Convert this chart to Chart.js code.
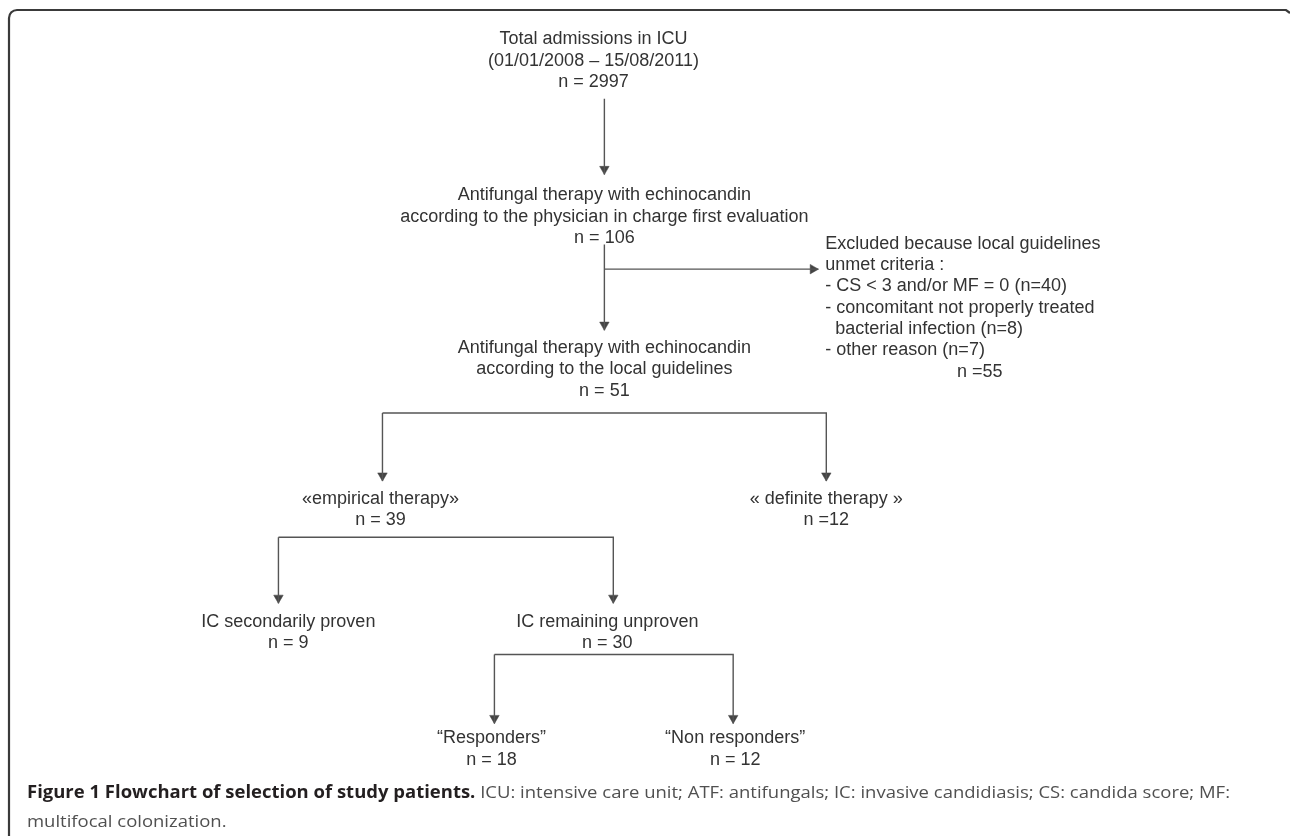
<!DOCTYPE html>
<html>
<head>
<meta charset="utf-8">
<script src="https://cdn.jsdelivr.net/npm/chart.js@4.4.1/dist/chart.umd.min.js"></script>
<style>
  html, body { margin: 0; padding: 0; background: #fff; }
  canvas { display: block; }
</style>
</head>
<body>
<canvas id="flow" width="1290" height="836"></canvas>
<script>
// box texts, top to bottom
const nodeLabels = [
  ["Total admissions in ICU", "(01/01/2008 \u2013 15/08/2011)"],
  ["Antifungal therapy with echinocandin", "according to the physician in charge first evaluation"],
  ["Antifungal therapy with echinocandin", "according to the local guidelines"],
  ["Excluded because local guidelines", "unmet criteria :", "- CS < 3 and/or MF = 0 (n=40)",
   "- concomitant not properly treated", "  bacterial infection (n=8)", "- other reason (n=7)"],
  ["\u00abempirical therapy\u00bb"],
  ["\u00ab definite therapy \u00bb"],
  ["IC secondarily proven"],
  ["IC remaining unproven"],
  ["\u201cResponders\u201d"],
  ["\u201cNon responders\u201d"]
];
const nodeCounts = [2997, 106, 51, 55, 39, 12, 9, 30, 18, 12];
const countSigns = ["n = ", "n = ", "n = ", "n =", "n = ", "n =", "n = ", "n = ", "n = ", "n = "];

const captionBold = "Figure 1 Flowchart of selection of study patients.";
const captionText = [" ICU: intensive care unit; ATF: antifungals; IC: invasive candidiasis; CS: candida score; MF:",
                     "multifocal colonization."];

// layout (pixels): where each box sits, first line y
const nodeX = [593, 604, 604, 827, 378, 828, 285, 607, 490, 736];
const nodeY = [34, 192, 347, 241, 500, 500, 625, 625, 743, 743];
const lineGap = 21.7;

// connectors, arrow head on the last point
const links = [
  [[604, 94], [604, 171]],
  [[604, 242], [604, 329]],
  [[604, 267], [820, 267]],
  [[380, 413], [380, 482]],
  [[380, 413], [828, 413], [828, 482]],
  [[275, 539], [275, 606]],
  [[275, 539], [613, 539], [613, 606]],
  [[493, 658], [493, 728]],
  [[493, 658], [734, 658], [734, 728]]
];

const headR = 5.5;
const lineCol = "#555";

const datasets = links.map(pts => ({
  data: pts.map(p => ({ x: p[0], y: p[1] })),
  showLine: true,
  borderColor: lineCol,
  borderWidth: 1.4,
  pointRadius: 0
}));

// arrow heads: triangle centred one radius back from the tip
const heads = [], rots = [];
links.forEach(pts => {
  const a = pts[pts.length - 2], b = pts[pts.length - 1];
  if (b[0] > a[0]) { heads.push({ x: b[0] - headR, y: b[1] }); rots.push(90); }
  else { heads.push({ x: b[0], y: b[1] - headR }); rots.push(180); }
});
datasets.push({
  data: heads,
  showLine: false,
  pointStyle: "triangle",
  rotation: rots,
  pointRadius: headR,
  backgroundColor: "#444",
  borderColor: "#444",
  borderWidth: 0.5
});

const flowText = {
  id: "flowText",
  beforeDraw(chart) {
    const c = chart.ctx;
    c.save();
    c.strokeStyle = "#3a3a3a";
    c.lineWidth = 2.2;
    c.beginPath();
    c.moveTo(9, 836);
    c.lineTo(9, 18);
    c.arcTo(9, 10, 17, 10, 8);
    c.lineTo(1286, 10);
    c.lineTo(1290, 13);
    c.stroke();
    c.restore();
  },
  afterDraw(chart) {
    const c = chart.ctx, sx = chart.scales.x, sy = chart.scales.y;
    c.save();
    c.fillStyle = "#333";
    c.font = "18px 'Liberation Sans', Arial, sans-serif";
    c.textBaseline = "middle";
    nodeLabels.forEach((lines, i) => {
      const left = i === 3;
      c.textAlign = left ? "left" : "center";
      const x = sx.getPixelForValue(nodeX[i]);
      lines.forEach((t, k) => c.fillText(t, x, sy.getPixelForValue(nodeY[i] + k * lineGap)));
      const cx = left ? sx.getPixelForValue(960) : x;
      c.fillText(countSigns[i] + nodeCounts[i], cx, sy.getPixelForValue(nodeY[i] + lines.length * lineGap));
    });

    // caption, squeezed to the reference width
    c.textAlign = "left";
    c.font = "700 17px 'Open Sans', sans-serif";
    const wb = c.measureText(captionBold).width;
    c.font = "400 17px 'Open Sans', sans-serif";
    const wr = c.measureText(captionText[0]).width;
    const k = 1203 / (wb + wr);
    c.translate(27, 0);
    c.scale(k, 1);
    c.font = "700 17px 'Open Sans', sans-serif";
    c.fillStyle = "#231f20";
    c.fillText(captionBold, 0, 793);
    c.font = "400 17px 'Open Sans', sans-serif";
    c.fillStyle = "#505050";
    c.fillText(captionText[0], wb, 793);
    c.fillText(captionText[1], 0, 822);
    c.restore();
  }
};

new Chart(document.getElementById("flow"), {
  type: "scatter",
  data: { datasets: datasets },
  options: {
    responsive: false,
    animation: false,
    devicePixelRatio: 1,
    layout: { padding: 0 },
    plugins: { legend: { display: false }, tooltip: { enabled: false } },
    scales: {
      x: { type: "linear", min: 0, max: 1290, display: false },
      y: { type: "linear", min: 0, max: 836, reverse: true, display: false }
    }
  },
  plugins: [flowText]
});
</script>
</body>
</html>
